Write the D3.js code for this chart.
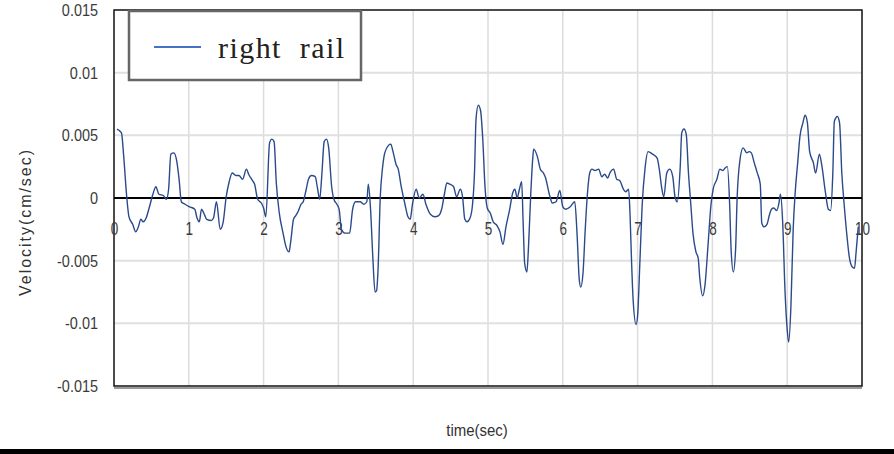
<!DOCTYPE html>
<html>
<head>
<meta charset="utf-8">
<script src="https://cdn.jsdelivr.net/npm/d3@7"></script>
<style>
  body { margin: 0; background: #fff; }
  svg { display: block; }
</style>
</head>
<body>
<div id="chart"></div>
<script>
var margin = {top: 10, right: 32, bottom: 68, left: 114};
var width = 894, height = 454;

// (time in sec, velocity in cm/sec)
var times = [
  0.04, 0.10, 0.13, 0.17, 0.20, 0.25, 0.29, 0.32, 0.36, 0.39, 0.43, 0.47, 0.52, 0.56, 0.60, 0.66, 0.70, 0.73, 0.76, 0.80,
  0.84, 0.87, 0.90, 0.95, 1.01, 1.08, 1.11, 1.14, 1.17, 1.20, 1.24, 1.30, 1.33, 1.37, 1.42, 1.46, 1.50, 1.54, 1.58, 1.63,
  1.67, 1.72, 1.77, 1.80, 1.85, 1.88, 1.92, 1.97, 2.00, 2.03, 2.08, 2.11, 2.14, 2.17, 2.21, 2.26, 2.30, 2.34, 2.36, 2.40,
  2.43, 2.46, 2.50, 2.53, 2.57, 2.60, 2.64, 2.69, 2.72, 2.75, 2.78, 2.81, 2.84, 2.87, 2.91, 2.94, 2.98, 3.01, 3.04, 3.09,
  3.15, 3.19, 3.23, 3.29, 3.34, 3.38, 3.40, 3.43, 3.46, 3.49, 3.51, 3.53, 3.56, 3.59, 3.62, 3.67, 3.70, 3.73, 3.77, 3.80,
  3.84, 3.89, 3.93, 3.96, 3.99, 4.04, 4.08, 4.13, 4.17, 4.23, 4.29, 4.34, 4.38, 4.42, 4.45, 4.49, 4.54, 4.58, 4.63, 4.66,
  4.69, 4.72, 4.76, 4.79, 4.82, 4.84, 4.87, 4.90, 4.93, 4.96, 4.99, 5.03, 5.07, 5.12, 5.16, 5.20, 5.24, 5.29, 5.33, 5.36,
  5.39, 5.42, 5.45, 5.47, 5.49, 5.52, 5.54, 5.57, 5.60, 5.61, 5.66, 5.70, 5.74, 5.77, 5.82, 5.86, 5.91, 5.96, 6.00, 6.04,
  6.10, 6.16, 6.19, 6.22, 6.24, 6.27, 6.30, 6.33, 6.36, 6.39, 6.43, 6.48, 6.52, 6.56, 6.60, 6.63, 6.68, 6.72, 6.76, 6.81,
  6.84, 6.88, 6.90, 6.92, 6.94, 6.98, 7.00, 7.03, 7.06, 7.10, 7.14, 7.20, 7.26, 7.29, 7.32, 7.35, 7.39, 7.43, 7.47, 7.50,
  7.53, 7.57, 7.59, 7.62, 7.65, 7.68, 7.71, 7.74, 7.78, 7.81, 7.83, 7.87, 7.90, 7.94, 7.98, 8.01, 8.06, 8.10, 8.14, 8.17,
  8.20, 8.23, 8.25, 8.28, 8.31, 8.33, 8.37, 8.41, 8.46, 8.49, 8.52, 8.56, 8.60, 8.64, 8.66, 8.69, 8.73, 8.76, 8.79, 8.82,
  8.86, 8.89, 8.91, 8.94, 8.97, 9.00, 9.02, 9.05, 9.08, 9.11, 9.14, 9.17, 9.21, 9.24, 9.27, 9.30, 9.35, 9.38, 9.43, 9.46,
  9.51, 9.55, 9.58, 9.61, 9.63, 9.67, 9.70, 9.73, 9.76, 9.80, 9.83, 9.87, 9.90, 9.92, 9.95
];
var velocity = [
  0.0055, 0.0052, 0.0033, 0.0001, -0.0015, -0.0021, -0.0027, -0.0024, -0.0017, -0.0019, -0.0016, -0.0008, 0.0003, 0.0009, 0.0003, 0.0002, -0.0001, 0.0007, 0.0035, 0.0036,
  0.0029, 0.0015, -0.0003, -0.0005, -0.0007, -0.0009, -0.0016, -0.0019, -0.0009, -0.0012, -0.0017, -0.0018, -0.0016, -0.0003, -0.0025, -0.0019, 0.0001, 0.0013, 0.0020, 0.0018,
  0.0018, 0.0015, 0.0023, 0.0019, 0.0014, 0.0011, -0.0001, -0.0004, -0.0008, -0.0015, 0.0044, 0.0047, 0.0045, 0.0012, -0.0012, -0.0028, -0.0039, -0.0043, -0.0036, -0.0017,
  -0.0014, -0.0011, -0.0005, -0.0003, 0.0007, 0.0015, 0.0018, 0.0017, 0.0008, -0.0001, 0.0020, 0.0045, 0.0047, 0.0040, 0.0009, -0.0001, -0.0005, -0.0009, -0.0025, -0.0028,
  -0.0028, -0.0009, -0.0003, -0.0003, -0.0005, -0.0003, 0.0011, -0.0009, -0.0047, -0.0075, -0.0074, -0.0057, 0.0001, 0.0024, 0.0036, 0.0042, 0.0043, 0.0037, 0.0027, 0.0023,
  0.0009, -0.0005, -0.0015, -0.0017, -0.0005, 0.0007, 0.0000, 0.0003, -0.0005, -0.0013, -0.0015, -0.0014, -0.0009, 0.0004, 0.0012, 0.0011, 0.0009, 0.0001, 0.0007, 0.0001,
  -0.0017, -0.0019, -0.0016, -0.0007, 0.0021, 0.0063, 0.0074, 0.0070, 0.0047, 0.0009, -0.0008, -0.0012, -0.0019, -0.0022, -0.0027, -0.0037, -0.0023, -0.0009, 0.0004, 0.0007,
  0.0000, 0.0007, 0.0013, -0.0020, -0.0052, -0.0059, -0.0041, 0.0001, 0.0033, 0.0039, 0.0033, 0.0023, 0.0020, 0.0016, 0.0003, -0.0004, -0.0003, 0.0006, -0.0007, -0.0009,
  -0.0007, -0.0003, -0.0028, -0.0065, -0.0071, -0.0060, -0.0025, 0.0004, 0.0020, 0.0023, 0.0022, 0.0023, 0.0017, 0.0019, 0.0016, 0.0020, 0.0023, 0.0015, 0.0014, 0.0007,
  0.0005, 0.0007, -0.0015, -0.0052, -0.0081, -0.0101, -0.0094, -0.0052, -0.0007, 0.0024, 0.0037, 0.0035, 0.0032, 0.0023, 0.0009, 0.0001, 0.0020, 0.0023, 0.0017, 0.0001,
  -0.0003, 0.0025, 0.0052, 0.0055, 0.0051, 0.0020, -0.0004, -0.0028, -0.0043, -0.0048, -0.0063, -0.0078, -0.0070, -0.0039, -0.0006, 0.0007, 0.0015, 0.0023, 0.0022, 0.0024,
  0.0025, -0.0004, -0.0041, -0.0059, -0.0041, -0.0001, 0.0031, 0.0040, 0.0036, 0.0037, 0.0036, 0.0028, 0.0020, 0.0011, -0.0020, -0.0023, -0.0021, -0.0014, -0.0009, -0.0008,
  -0.0010, -0.0004, 0.0003, -0.0020, -0.0073, -0.0105, -0.0115, -0.0086, -0.0025, 0.0007, 0.0028, 0.0049, 0.0060, 0.0066, 0.0060, 0.0037, 0.0028, 0.0020, 0.0035, 0.0027,
  0.0005, -0.0009, -0.0010, 0.0020, 0.0061, 0.0065, 0.0060, 0.0020, -0.0004, -0.0031, -0.0047, -0.0055, -0.0056, -0.0044, -0.0023
];
var xTicks = [0, 1, 2, 3, 4, 5, 6, 7, 8, 9, 10];
var yTicks = [-0.015, -0.01, -0.005, 0, 0.005, 0.01, 0.015];
var seriesName = "right  rail";

var pltwidth = width - margin.left - margin.right,
    pltheight = height - margin.top - margin.bottom;

var xScale = d3.scaleLinear().domain([0, 10]).range([0, pltwidth]);
var yScale = d3.scaleLinear().domain([-0.015, 0.015]).range([pltheight, 0]);

var svg = d3.select("#chart").append("svg")
    .attr("width", width)
    .attr("height", height);

var g = svg.append("g")
    .attr("transform", "translate(" + margin.left + "," + margin.top + ")");

// gridlines
g.selectAll(".vgrid")
    .data(xTicks.slice(1, -1))
  .enter().append("line")
    .attr("x1", function(d) { return xScale(d); })
    .attr("x2", function(d) { return xScale(d); })
    .attr("y1", 0).attr("y2", pltheight)
    .style("stroke", "#dcdcdc").style("stroke-width", 1.5);

g.selectAll(".hgrid")
    .data(yTicks.filter(function(d) { return d !== 0 && Math.abs(d) < 0.015; }))
  .enter().append("line")
    .attr("x1", 0).attr("x2", pltwidth)
    .attr("y1", function(d) { return yScale(d); })
    .attr("y2", function(d) { return yScale(d); })
    .style("stroke", "#e0e0e0").style("stroke-width", 2);

// frame
g.append("line")
    .attr("x1", 0).attr("x2", pltwidth)
    .attr("y1", pltheight + 2).attr("y2", pltheight + 2)
    .style("stroke", "#9a9a9a").style("stroke-width", 2);
g.append("rect")
    .attr("width", pltwidth).attr("height", pltheight)
    .style("fill", "none").style("stroke", "#111").style("stroke-width", 1.5);

// zero line
g.append("line")
    .attr("x1", 0).attr("x2", pltwidth)
    .attr("y1", yScale(0)).attr("y2", yScale(0))
    .style("stroke", "#000").style("stroke-width", 1.8);

function squeeze(sel, k) {
  sel.each(function() {
    var w = this.getComputedTextLength();
    d3.select(this).attr("textLength", w * k).attr("lengthAdjust", "spacingAndGlyphs");
  });
}

var xAxis = g.append("g")
    .attr("transform", "translate(0," + yScale(0) + ")")
    .call(d3.axisBottom(xScale).tickValues(xTicks).tickSize(0).tickPadding(24).tickFormat(d3.format("d")));
xAxis.select(".domain").remove();
xAxis.selectAll("text")
    .style("font-family", "Liberation Sans, Arial, sans-serif")
    .style("font-size", "18px")
    .style("fill", "#3a3a3a")
    .call(squeeze, 0.75);

var yAxis = g.append("g")
    .call(d3.axisLeft(yScale).tickValues(yTicks).tickSize(0).tickPadding(16)
      .tickFormat(function(d) { return d === 0 ? "0" : String(+d.toFixed(3)); }));
yAxis.select(".domain").remove();
yAxis.selectAll("text")
    .style("font-family", "Liberation Sans, Arial, sans-serif")
    .style("font-size", "17px")
    .style("fill", "#3a3a3a")
    .call(squeeze, 0.85);

// the trace
var line = d3.line()
    .x(function(d, i) { return xScale(times[i]); })
    .y(function(d) { return yScale(d); })
    .curve(d3.curveMonotoneX);

g.append("path")
    .datum(velocity)
    .attr("d", line)
    .style("fill", "none")
    .style("stroke", "#2b4a8b")
    .style("stroke-width", 1.4);

// legend
var legend = svg.append("g").attr("transform", "translate(129,11)");
legend.append("rect")
    .attr("width", 232).attr("height", 69)
    .style("fill", "#fff").style("stroke", "#666").style("stroke-width", 2.5);
legend.append("line")
    .attr("x1", 25).attr("x2", 72).attr("y1", 36).attr("y2", 36)
    .style("stroke", "#4472c4").style("stroke-width", 2);
legend.append("text")
    .attr("x", 89).attr("y", 47)
    .attr("textLength", 126).attr("lengthAdjust", "spacing")
    .style("font-family", "Liberation Serif, Times New Roman, serif")
    .style("font-size", "30px")
    .style("fill", "#222")
    .style("white-space", "pre")
    .text(seriesName);

// axis titles
svg.append("text")
    .attr("transform", "translate(31,223) rotate(-90)")
    .attr("text-anchor", "middle")
    .attr("textLength", 146).attr("lengthAdjust", "spacing")
    .style("font-family", "Liberation Sans, Arial, sans-serif")
    .style("font-size", "16px")
    .style("fill", "#333")
    .text("Velocity(cm/sec)");

svg.append("text")
    .attr("x", 477).attr("y", 436)
    .attr("text-anchor", "middle")
    .style("font-family", "Liberation Sans, Arial, sans-serif")
    .style("font-size", "17px")
    .style("fill", "#333")
    .text("time(sec)")
    .call(squeeze, 0.88);

// dark strip along the bottom edge
svg.append("rect")
    .attr("x", 0).attr("y", 449)
    .attr("width", width).attr("height", 5)
    .style("fill", "#000");
</script>
</body>
</html>
